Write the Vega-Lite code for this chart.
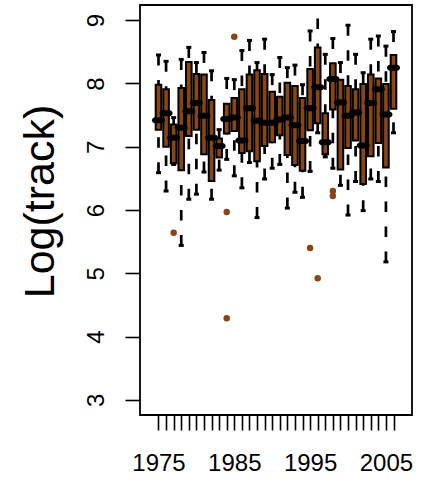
{
  "$schema": "https://vega.github.io/schema/vega-lite/v6.json",
  "width": 272,
  "height": 410,
  "autosize": {"type": "none"},
  "padding": {"left": 140, "top": 5, "right": 10, "bottom": 68},
  "background": "white",
  "config": {
    "view": {"stroke": "black", "strokeWidth": 1.8},
    "axis": {
      "labelFont": "Liberation Sans",
      "labelFontSize": 24,
      "labelColor": "black",
      "titleFont": "Liberation Sans",
      "titleFontWeight": "normal",
      "titleColor": "black",
      "tickColor": "black",
      "tickWidth": 1.6,
      "tickSize": 15,
      "domain": false,
      "grid": false,
      "offset": 0
    },
    "axisY": {
      "labelAngle": 270,
      "labelAlign": "center",
      "labelBaseline": "alphabetic",
      "labelPadding": 22,
      "labelFlush": false,
      "titleFontSize": 43,
      "titleAngle": 270,
      "titleAlign": "center",
      "titleBaseline": "middle",
      "titleX": -100,
      "titleY": 196
    }
  },
  "data": {
    "values": [
      {"year": 1975, "lo": 6.59, "q1": 7.27, "med": 7.42, "q3": 7.98, "hi": 8.45},
      {"year": 1976, "lo": 6.30, "q1": 7.00, "med": 7.53, "q3": 7.91, "hi": 8.35},
      {"year": 1977, "lo": 6.72, "q1": 6.74, "med": 7.14, "q3": 7.35, "hi": 7.46},
      {"year": 1978, "lo": 5.44, "q1": 6.63, "med": 7.30, "q3": 7.93, "hi": 8.38},
      {"year": 1979, "lo": 6.17, "q1": 7.17, "med": 7.56, "q3": 8.34, "hi": 8.57},
      {"year": 1980, "lo": 6.25, "q1": 7.27, "med": 7.69, "q3": 8.15, "hi": 8.33},
      {"year": 1981, "lo": 6.60, "q1": 6.88, "med": 7.49, "q3": 8.14, "hi": 8.49},
      {"year": 1982, "lo": 6.17, "q1": 6.46, "med": 7.14, "q3": 7.74, "hi": 8.20},
      {"year": 1983, "lo": 6.63, "q1": 6.83, "med": 7.01, "q3": 7.13, "hi": 7.27},
      {"year": 1984, "lo": 6.80, "q1": 7.21, "med": 7.44, "q3": 7.68, "hi": 8.08},
      {"year": 1985, "lo": 6.54, "q1": 7.25, "med": 7.46, "q3": 7.77, "hi": 8.06},
      {"year": 1986, "lo": 6.35, "q1": 6.90, "med": 7.10, "q3": 7.91, "hi": 8.52},
      {"year": 1987, "lo": 6.75, "q1": 6.93, "med": 7.61, "q3": 8.14, "hi": 8.68},
      {"year": 1988, "lo": 5.88, "q1": 6.77, "med": 7.41, "q3": 8.21, "hi": 8.33},
      {"year": 1989, "lo": 6.49, "q1": 7.01, "med": 7.38, "q3": 8.15, "hi": 8.70},
      {"year": 1990, "lo": 6.66, "q1": 7.07, "med": 7.38, "q3": 7.87, "hi": 8.14},
      {"year": 1991, "lo": 6.72, "q1": 7.18, "med": 7.43, "q3": 7.79, "hi": 8.41},
      {"year": 1992, "lo": 6.03, "q1": 6.87, "med": 7.46, "q3": 8.01, "hi": 8.25},
      {"year": 1993, "lo": 6.28, "q1": 6.71, "med": 7.34, "q3": 7.96, "hi": 8.29},
      {"year": 1994, "lo": 6.20, "q1": 6.62, "med": 7.09, "q3": 7.77, "hi": 7.98},
      {"year": 1995, "lo": 6.61, "q1": 7.26, "med": 7.61, "q3": 8.23, "hi": 8.83},
      {"year": 1996, "lo": 7.22, "q1": 7.37, "med": 7.94, "q3": 8.57, "hi": 9.42},
      {"year": 1997, "lo": 6.84, "q1": 6.88, "med": 7.07, "q3": 7.53, "hi": 8.46},
      {"year": 1998, "lo": 6.66, "q1": 7.59, "med": 8.07, "q3": 8.32, "hi": 8.71},
      {"year": 1999, "lo": 6.39, "q1": 6.64, "med": 7.70, "q3": 8.06, "hi": 8.33},
      {"year": 2000, "lo": 5.92, "q1": 6.98, "med": 7.49, "q3": 7.96, "hi": 8.92},
      {"year": 2001, "lo": 6.45, "q1": 7.10, "med": 7.54, "q3": 7.91, "hi": 8.46},
      {"year": 2002, "lo": 5.99, "q1": 6.41, "med": 7.02, "q3": 7.99, "hi": 8.17},
      {"year": 2003, "lo": 6.49, "q1": 6.85, "med": 7.69, "q3": 8.14, "hi": 8.70},
      {"year": 2004, "lo": 6.45, "q1": 7.06, "med": 7.91, "q3": 8.08, "hi": 8.75},
      {"year": 2005, "lo": 5.18, "q1": 6.67, "med": 7.51, "q3": 7.99, "hi": 8.59},
      {"year": 2006, "lo": 7.22, "q1": 7.60, "med": 8.25, "q3": 8.45, "hi": 8.82}
    ]
  },
  "encoding": {
    "x": {
      "field": "year", "type": "quantitative", "title": null,
      "scale": {"domain": [1973.22, 2007.78], "nice": false, "zero": false},
      "axis": {
        "values": [1975,1976,1977,1978,1979,1980,1981,1982,1983,1984,1985,1986,1987,1988,1989,1990,1991,1992,1993,1994,1995,1996,1997,1998,1999,2000,2001,2002,2003,2004,2005,2006],
        "labelExpr": "(datum.value - 1975) % 10 == 0 ? '' + datum.value : ''",
        "labelOverlap": false,
        "labelFlush": false,
        "labelPadding": 21,
        "labelBaseline": "top"
      }
    }
  },
  "layer": [
    {
      "mark": {"type": "rule", "color": "black", "strokeWidth": 2.7, "strokeDash": [10.5, 14.5], "clip": true},
      "encoding": {
        "y": {
          "field": "lo", "type": "quantitative", "title": "Log(track)",
          "scale": {"domain": [2.76, 9.24], "nice": false, "zero": false},
          "axis": {"values": [3, 4, 5, 6, 7, 8, 9], "format": "d"}
        },
        "y2": {"field": "q1"}
      }
    },
    {
      "mark": {"type": "rule", "color": "black", "strokeWidth": 2.7, "strokeDash": [10.5, 14.5], "clip": true},
      "encoding": {
        "y": {"field": "hi", "type": "quantitative", "title": "Log(track)", "axis": {"values": [3, 4, 5, 6, 7, 8, 9], "format": "d"}},
        "y2": {"field": "q3"}
      }
    },
    {
      "mark": {"type": "tick", "orient": "horizontal", "color": "black", "size": 5, "thickness": 3, "opacity": 1, "clip": true},
      "encoding": {
        "y": {"field": "lo", "type": "quantitative", "title": "Log(track)", "axis": {"values": [3, 4, 5, 6, 7, 8, 9], "format": "d"}}
      }
    },
    {
      "mark": {"type": "tick", "orient": "horizontal", "color": "black", "size": 5, "thickness": 3, "opacity": 1, "clip": true},
      "encoding": {
        "y": {"field": "hi", "type": "quantitative", "title": "Log(track)", "axis": {"values": [3, 4, 5, 6, 7, 8, 9], "format": "d"}}
      }
    },
    {
      "mark": {"type": "bar", "width": 5.6, "fill": "#8B4513", "stroke": "black", "strokeWidth": 2},
      "encoding": {
        "y": {"field": "q1", "type": "quantitative", "title": "Log(track)", "axis": {"values": [3, 4, 5, 6, 7, 8, 9], "format": "d"}},
        "y2": {"field": "q3"}
      }
    },
    {
      "mark": {"type": "tick", "orient": "horizontal", "color": "black", "size": 13, "thickness": 6, "cornerRadius": 3, "opacity": 1},
      "encoding": {
        "y": {"field": "med", "type": "quantitative", "title": "Log(track)", "axis": {"values": [3, 4, 5, 6, 7, 8, 9], "format": "d"}}
      }
    },
    {
      "data": {
        "values": [
          {"year": 1977, "value": 5.64},
          {"year": 1984, "value": 5.97},
          {"year": 1984, "value": 4.29},
          {"year": 1985, "value": 8.74},
          {"year": 1995, "value": 5.40},
          {"year": 1996, "value": 4.92},
          {"year": 1998, "value": 6.30},
          {"year": 1998, "value": 6.22}
        ]
      },
      "mark": {"type": "circle", "size": 42, "color": "#8B4513", "opacity": 1},
      "encoding": {
        "y": {"field": "value", "type": "quantitative", "title": "Log(track)", "axis": {"values": [3, 4, 5, 6, 7, 8, 9], "format": "d"}}
      }
    }
  ]
}
